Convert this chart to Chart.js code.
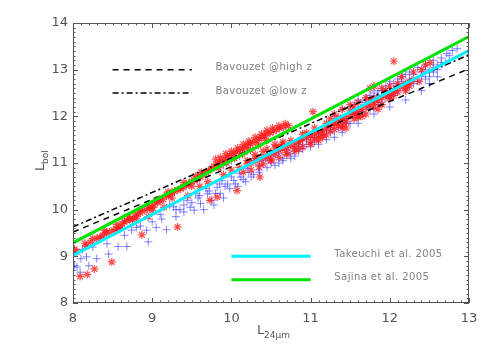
<!DOCTYPE html>
<html>
<head>
<meta charset="utf-8">
<script src="https://cdn.jsdelivr.net/npm/chart.js@4.4.1/dist/chart.umd.min.js"></script>
<style>
  html, body { margin: 0; padding: 0; background: #fff; }
  #wrap { width: 491px; height: 350px; }
</style>
</head>
<body>
<div id="wrap"><canvas id="myChart" width="491" height="350"></canvas></div>
<script>
// Ejes
const xTicks = [8, 9, 10, 11, 12, 13];
const yTicks = [8, 9, 10, 11, 12, 13, 14];

// Rectas de ajuste (extremos en x = 8 y x = 13)
const fitX = [8, 13];
const takeuchiY = [9.02, 13.41];
const sajinaY = [9.29, 13.71];
const highZY = [9.52, 13.02];
const lowZY = [9.63, 13.32];

// Muestra roja (asteriscos)
const redStars = [
  [8.02,9.15],[8.05,9.10],[8.09,8.57],[8.18,8.61],[8.27,8.73],[8.49,8.88],[8.15,9.28],[8.17,9.22],
  [8.22,9.30],[8.30,9.38],[8.34,9.41],[8.38,9.45],[8.42,9.50],[8.46,9.52],[8.51,9.56],[8.55,9.58],
  [8.58,9.62],[8.62,9.70],[8.65,9.74],[8.68,9.77],[8.72,9.80],[8.75,9.78],[8.78,9.86],[8.81,9.91],
  [8.85,9.93],[8.87,9.46],[8.90,9.98],[8.94,10.02],[8.97,10.06],[9.00,10.05],[9.03,10.10],[9.07,10.16],
  [9.10,10.19],[9.14,10.22],[9.18,10.31],[9.21,10.30],[9.25,10.36],[9.28,10.40],[9.32,9.63],[9.32,10.42],
  [9.36,10.45],[9.39,10.48],[9.43,10.52],[9.46,10.56],[9.50,10.60],[9.53,10.63],[9.57,10.66],[9.61,10.70],
  [9.64,10.76],[9.68,10.80],[9.71,10.84],[9.75,10.88],[9.78,10.93],[9.82,10.98],[9.85,11.00],[9.88,11.05],
  [9.92,11.08],[9.95,11.12],[9.98,11.16],[10.03,11.20],[10.06,11.24],[10.10,11.27],[10.14,11.30],[10.17,11.33],
  [10.20,11.38],[10.24,11.41],[10.27,11.44],[10.31,11.47],[10.35,11.52],[10.38,11.55],[10.42,11.58],[10.45,11.63],
  [10.49,11.65],[10.53,11.68],[10.57,11.72],[10.61,11.74],[10.66,11.77],[10.72,11.80],
  [9.73,10.20],[9.82,10.27],[10.07,10.41],[10.36,10.70],[9.60,10.50],[9.90,10.75],[10.00,10.85],[10.20,11.05],
  [9.45,10.30],[9.15,10.05],[8.95,9.85],[10.30,11.10],[9.70,10.60],[10.10,10.90],
  [9.80,11.08],[9.86,11.12],[9.93,11.20],[10.00,11.25],[10.08,11.32],[10.15,11.40],[10.22,11.47],[10.30,11.55],
  [10.38,11.62],[10.45,11.70],[10.52,11.75],[10.60,11.80],[10.68,11.84],[9.84,10.90],[9.94,11.00],[10.04,11.10],
  [10.14,11.18],[10.24,11.28],[10.34,11.38],[10.44,11.48],[9.55,10.72],[9.62,10.80],[9.40,10.58],[9.20,10.38],
  [9.05,10.20],[8.85,10.00],[8.70,9.85],[8.55,9.68],[8.40,9.55],[8.25,9.38],[8.60,9.60],[8.80,9.82],
  [9.00,9.98],[9.25,10.25],[9.50,10.50],
  [10.20,10.98],[10.25,11.00],[10.30,11.05],[10.35,11.08],[10.40,11.12],[10.45,11.13],[10.50,11.20],[10.55,11.22],
  [10.60,11.27],[10.65,11.30],[10.70,11.33],[10.75,11.38],[10.80,11.42],[10.85,11.45],[10.87,11.48],[10.90,11.52],
  [10.95,11.55],[11.00,11.58],[11.05,11.62],[11.10,11.66],[11.15,11.70],[11.20,11.75],[11.25,11.80],[11.29,11.84],
  [11.33,11.86],[11.38,11.92],[11.42,11.95],[11.47,12.00],[11.52,12.03],[11.56,12.08],[11.60,12.10],[11.65,12.15],
  [11.71,12.20],[11.75,12.25],[11.80,12.30],[11.85,12.33],[11.90,12.40],[11.95,12.45],[12.00,12.50],[12.05,12.55],
  [12.13,12.63],[12.20,12.70],[12.28,12.78],
  [10.30,11.18],[10.50,11.08],[10.60,11.35],[10.70,11.22],[10.80,11.32],[10.90,11.62],[11.00,11.45],[11.10,11.55],
  [11.20,11.85],[11.30,11.72],[11.40,11.82],[11.50,12.12],[11.60,11.98],[11.70,12.05],[11.80,12.38],[11.90,12.25],
  [12.00,12.38],[12.10,12.70],[12.20,12.55],[10.40,11.25],[10.55,11.40],[10.65,11.45],[10.85,11.30],[11.05,11.75],
  [11.15,11.55],[11.35,11.98],[11.45,11.75],[11.55,12.20],[11.65,12.00],[11.75,12.35],[11.85,12.15],[11.95,12.55],
  [12.05,12.45],[12.15,12.85],[12.25,12.65],
  [10.40,10.98],[10.50,11.05],[10.60,11.12],[10.70,11.18],[10.80,11.25],[10.90,11.35],[11.00,11.40],[11.10,11.48],
  [10.45,11.30],[10.55,11.32],[10.65,11.40],[10.75,11.48],[10.95,11.65],[11.05,11.52],[11.15,11.62],[11.25,11.68],
  [11.35,11.80],[11.45,11.88],[11.55,11.95],[10.35,10.92],[10.25,10.85],[10.15,10.80],[11.20,11.60],[11.40,11.75],
  [11.60,12.02],[11.80,12.20],[12.00,12.42],[12.10,12.52],[12.20,12.62],[12.25,12.72],
  [11.30,12.05],[11.40,12.15],[11.50,12.25],[11.60,12.30],[11.70,12.40],[11.90,12.60],[12.00,12.65],[11.25,11.95],
  [11.03,12.10],[12.05,13.18],[12.37,12.75],[12.51,13.15],[12.40,13.00],[12.45,13.10],[11.75,12.60],[11.80,12.65],[12.30,12.95]
];

// Muestra azul (cruces)
const blueCrosses = [
  [8.02,8.80],[8.05,8.77],[8.09,8.66],[8.10,8.95],[8.17,8.99],[8.20,8.80],[8.12,9.15],[8.25,9.20],
  [8.43,9.27],[8.57,9.21],[8.68,9.21],[8.74,9.56],[8.80,9.62],[8.93,9.56],[8.95,9.31],[9.00,9.74],
  [9.10,9.90],[9.18,9.57],[9.05,9.62],[9.27,10.06],[9.30,9.85],[9.35,10.00],[9.44,10.20],[9.48,10.05],
  [9.53,9.99],[9.58,10.25],[9.61,10.13],[9.65,10.00],[9.70,10.34],[9.75,10.20],[9.78,10.10],[9.82,10.48],
  [9.86,10.35],[9.90,10.25],[9.95,10.55],[9.98,10.45],[10.03,10.63],[10.08,10.50],[10.12,10.70],[10.18,10.60],
  [10.22,10.80],[10.28,10.75],[8.35,9.40],[8.55,9.55],[8.65,9.45],[8.85,9.65],[9.12,9.80],[9.22,10.10],
  [9.40,9.95],[9.55,10.35],[9.68,10.45],[9.88,10.62],[8.30,8.95],[8.45,9.05],
  [9.60,10.30],[9.72,10.40],[9.80,10.35],[9.92,10.50],[10.05,10.55],[10.15,10.65],[10.25,10.70],[10.35,10.85],
  [9.50,10.15],[9.40,10.10],[9.30,10.00],[9.85,10.55],[10.00,10.70],[10.10,10.78],[10.20,10.88],
  [9.90,10.95],[10.00,11.05],[10.10,11.15],[10.20,11.25],
  [10.35,10.95],[10.40,11.05],[10.45,11.10],[10.50,11.00],[10.55,11.15],[10.60,11.20],[10.65,11.10],[10.70,11.28],
  [10.75,11.20],[10.80,11.35],[10.85,11.40],[10.90,11.30],[10.95,11.50],[11.00,11.55],[11.05,11.45],[11.10,11.65],
  [11.15,11.60],[11.20,11.70],[11.25,11.65],[11.30,11.82],[11.35,11.75],[11.40,11.90],[11.45,11.95],[11.50,11.85],
  [11.55,12.05],[11.60,12.15],[11.65,12.10],[11.70,12.25],[11.75,12.20],[11.80,12.35],[11.85,12.45],[11.90,12.30],
  [11.95,12.50],[12.00,12.60],[12.05,12.45],[12.10,12.65],[12.15,12.75],[12.20,12.60],[12.25,12.80],[12.30,12.90],
  [12.35,12.75],[12.40,12.95],[12.45,13.00],[12.50,12.85],[12.55,13.20],[12.60,13.10],[12.65,13.25],[12.70,13.15],
  [12.79,13.41],[12.75,13.30],
  [11.30,12.00],[11.50,12.20],[11.70,12.40],[11.90,12.55],[12.10,12.80],[12.20,12.90],[11.60,12.35],[11.80,12.50],
  [12.00,12.75],[11.40,12.15],
  [11.55,12.25],[11.65,12.30],[11.75,12.45],[11.85,12.55],[11.95,12.65],[12.05,12.70],[12.15,12.85],[12.25,12.95],
  [12.35,13.05],[12.45,13.10],[12.55,13.05],[12.65,13.15],[12.72,13.35],[12.85,13.45],[12.30,12.70],[12.40,12.85],
  [12.50,12.95],[12.10,12.55],[11.95,12.40],[11.85,12.25],[11.75,12.15],[11.65,12.05],[11.45,11.85],[11.25,11.75],
  [11.05,11.55],[10.95,11.40],[10.85,11.25],[10.75,11.10],[10.65,11.05],[10.55,10.95],[10.45,10.90],[10.35,10.80],
  [11.00,11.35],[11.20,11.50],[11.40,11.65],[11.60,11.85],[11.80,12.05],[12.00,12.20],[12.20,12.35],[12.40,12.55],
  [12.50,12.70],[12.60,12.85],[11.10,11.40],[11.30,11.55],[10.80,11.15],[10.60,11.00],
  [12.45,12.80],[12.55,12.95],[12.60,13.00]
];

// Leyenda (texto y estilo de cada recta)
const legendItems = [
  { label: 'Bavouzet @high z', x0: 8.5, x1: 9.5, y: 13.0, textX: 9.8, color: '#000', width: 1.5, dash: [6, 5] },
  { label: 'Bavouzet @low z', x0: 8.5, x1: 9.5, y: 12.5, textX: 9.8, color: '#000', width: 1.5, dash: [6, 3, 2, 3] },
  { label: 'Takeuchi et al. 2005', x0: 10.0, x1: 11.0, y: 9.0, textX: 11.3, color: '#00f0ff', width: 3, dash: [] },
  { label: 'Sajina et al. 2005', x0: 10.0, x1: 11.0, y: 8.5, textX: 11.3, color: '#00e400', width: 3, dash: [] }
];

function toPoints(arr) {
  return arr.map(p => ({ x: p[0], y: p[1] }));
}

function linePoints(ys) {
  return fitX.map((x, i) => ({ x: x, y: ys[i] }));
}

// Marco estilo IDL: caja, marcas interiores, leyenda y títulos con subíndice
const framePlugin = {
  id: 'frame',
  afterDraw(chart) {
    const ctx = chart.ctx;
    const a = chart.chartArea;
    const sx = chart.scales.x;
    const sy = chart.scales.y;
    ctx.save();
    ctx.strokeStyle = '#555';
    ctx.lineWidth = 1;
    ctx.strokeRect(a.left + 0.5, a.top + 0.5, a.right - a.left - 1, a.bottom - a.top - 1);

    ctx.beginPath();
    for (let i = 0; i <= 50; i++) {
      const v = 8 + i * 0.1;
      const len = (i % 10 === 0) ? 5 : 2.5;
      const px = Math.round(sx.getPixelForValue(v)) + 0.5;
      ctx.moveTo(px, a.bottom); ctx.lineTo(px, a.bottom - len);
      ctx.moveTo(px, a.top); ctx.lineTo(px, a.top + len);
    }
    for (let i = 0; i <= 60; i++) {
      const v = 8 + i * 0.1;
      const len = (i % 10 === 0) ? 5 : 2.5;
      const py = Math.round(sy.getPixelForValue(v)) + 0.5;
      ctx.moveTo(a.left, py); ctx.lineTo(a.left + len, py);
      ctx.moveTo(a.right, py); ctx.lineTo(a.right - len, py);
    }
    ctx.stroke();

    // leyenda
    legendItems.forEach(item => {
      const py = sy.getPixelForValue(item.y);
      ctx.beginPath();
      ctx.strokeStyle = item.color;
      ctx.lineWidth = item.width;
      ctx.setLineDash(item.dash);
      ctx.moveTo(sx.getPixelForValue(item.x0), py);
      ctx.lineTo(sx.getPixelForValue(item.x1), py);
      ctx.stroke();
      ctx.setLineDash([]);
      ctx.fillStyle = '#808080';
      ctx.font = '10px "DejaVu Sans"';
      ctx.letterSpacing = '0.4px';
      ctx.textBaseline = 'middle';
      ctx.textAlign = 'left';
      ctx.fillText(item.label, sx.getPixelForValue(item.textX), py - 2);
    });
    ctx.letterSpacing = '0px';

    // título eje x: L_24μm
    ctx.fillStyle = '#555';
    ctx.textBaseline = 'alphabetic';
    ctx.textAlign = 'left';
    ctx.font = '13px "DejaVu Sans"';
    const xc = (a.left + a.right) / 2 - 14;
    ctx.fillText('L', xc, 334);
    ctx.font = '9px "DejaVu Sans"';
    ctx.fillText('24μm', xc + 7, 338);

    // título eje y: L_bol (girado)
    ctx.translate(44, (a.top + a.bottom) / 2 + 8);
    ctx.rotate(-Math.PI / 2);
    ctx.font = '13px "DejaVu Sans"';
    ctx.fillText('L', 0, 0);
    ctx.font = '9px "DejaVu Sans"';
    ctx.fillText('bol', 7, 4);
    ctx.restore();
  }
};

const ctx = document.getElementById('myChart').getContext('2d');
const scatterChart = new Chart(ctx, {
  type: 'scatter',
  data: {
    datasets: [
      {
        label: 'Takeuchi et al. 2005',
        data: linePoints(takeuchiY),
        showLine: true,
        borderColor: '#00f0ff',
        borderWidth: 3,
        pointRadius: 0,
        order: 0
      },
      {
        label: 'Sajina et al. 2005',
        data: linePoints(sajinaY),
        showLine: true,
        borderColor: '#00e400',
        borderWidth: 3,
        pointRadius: 0,
        order: 0
      },
      {
        label: 'Bavouzet @high z',
        data: linePoints(highZY),
        showLine: true,
        borderColor: '#000',
        borderWidth: 1.5,
        borderDash: [6, 5],
        pointRadius: 0,
        order: 0
      },
      {
        label: 'Bavouzet @low z',
        data: linePoints(lowZY),
        showLine: true,
        borderColor: '#000',
        borderWidth: 1.5,
        borderDash: [6, 3, 2, 3],
        pointRadius: 0,
        order: 0
      },
      {
        label: 'rojo',
        data: toPoints(redStars),
        pointStyle: 'star',
        pointRadius: 4,
        borderWidth: 1.2,
        borderColor: 'rgba(255, 20, 20, 0.75)',
        backgroundColor: 'rgba(255, 20, 20, 0.75)',
        order: 1
      },
      {
        label: 'azul',
        data: toPoints(blueCrosses),
        pointStyle: 'cross',
        pointRadius: 4,
        borderWidth: 1,
        borderColor: 'rgba(50, 50, 255, 0.6)',
        backgroundColor: 'rgba(50, 50, 255, 0.6)',
        order: 2
      }
    ]
  },
  options: {
    responsive: false,
    animation: false,
    devicePixelRatio: 1,
    layout: { padding: { left: 0, top: 23, right: 22, bottom: 0 } },
    plugins: {
      legend: { display: false },
      tooltip: { enabled: false }
    },
    scales: {
      x: {
        type: 'linear',
        min: 8,
        max: 13,
        afterBuildTicks: s => { s.ticks = xTicks.map(v => ({ value: v })); },
        afterFit: s => { s.height = 47; },
        grid: { display: false, drawTicks: false },
        border: { display: false },
        ticks: { padding: 8, color: '#555', font: { family: 'DejaVu Sans', size: 13 } }
      },
      y: {
        type: 'linear',
        min: 8,
        max: 14,
        afterBuildTicks: s => { s.ticks = yTicks.map(v => ({ value: v })); },
        afterFit: s => { s.width = 73; },
        grid: { display: false, drawTicks: false },
        border: { display: false },
        ticks: { padding: 5, color: '#555', font: { family: 'DejaVu Sans', size: 13 } }
      }
    }
  },
  plugins: [framePlugin]
});
</script>
</body>
</html>
